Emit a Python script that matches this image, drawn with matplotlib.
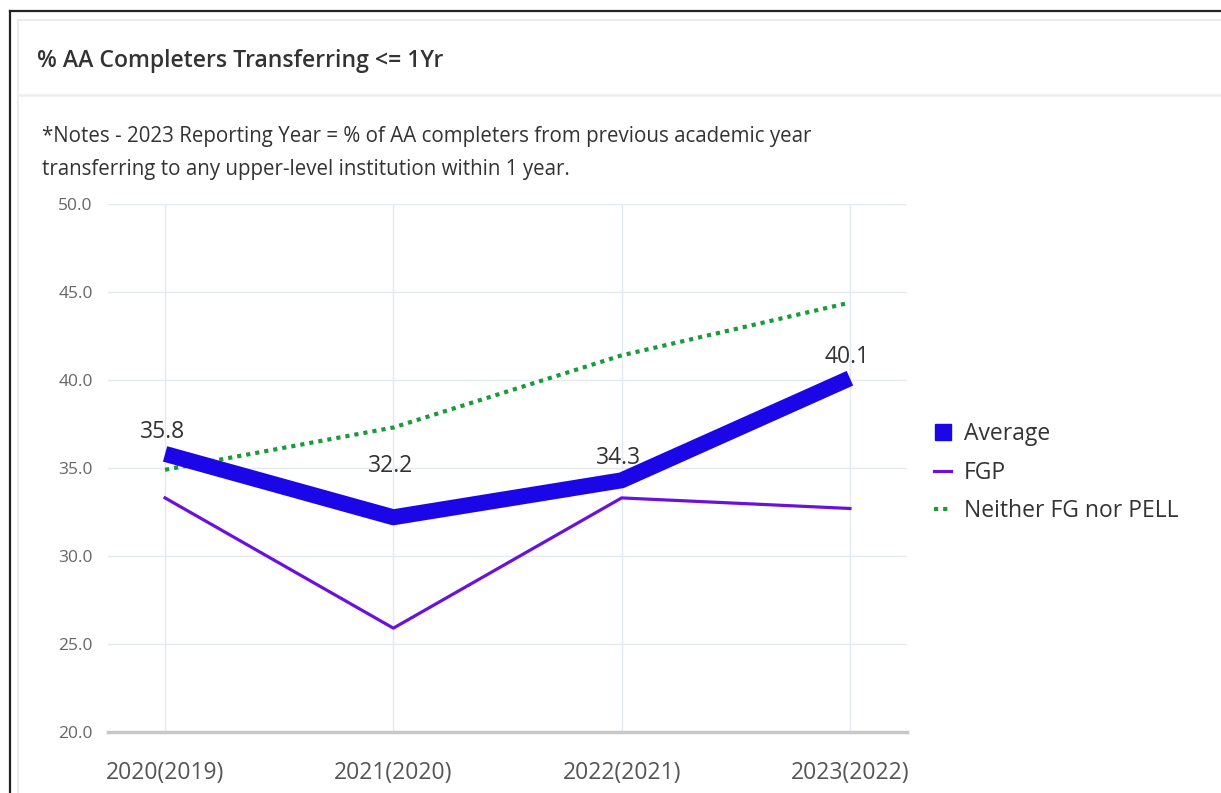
import matplotlib
matplotlib.use("Agg")
import matplotlib.pyplot as plt
from matplotlib.lines import Line2D

plt.rcParams['font.family'] = ['Open Sans', 'DejaVu Sans']

categories = ["2020(2019)", "2021(2020)", "2022(2021)", "2023(2022)"]
average = [35.8, 32.2, 34.3, 40.1]
fgp = [33.3, 25.9, 33.3, 32.7]
neither = [34.9, 37.3, 41.4, 44.4]
yticks = [20.0, 25.0, 30.0, 35.0, 40.0, 45.0, 50.0]
title = "% AA Completers Transferring <= 1Yr"
notes = ("*Notes - 2023 Reporting Year = % of AA completers from previous academic year\n"
         "transferring to any upper-level institution within 1 year.")

W, H = 1221, 793
fig = plt.figure(figsize=(W / 100, H / 100), dpi=100)
fig.patch.set_facecolor("white")

def fx(px):
    return px / W

def fy(py):
    return 1 - py / H

# frame lines
fig.add_artist(Line2D([fx(9.5), fx(9.5)], [0, fy(11)], color="#222222", lw=1.6, transform=fig.transFigure))
fig.add_artist(Line2D([fx(9.5), 1], [fy(11), fy(11)], color="#222222", lw=1.6, transform=fig.transFigure))
fig.add_artist(Line2D([fx(18), fx(18)], [0, fy(20)], color="#e8e8e8", lw=1.2, transform=fig.transFigure))
fig.add_artist(Line2D([fx(18), 1], [fy(20), fy(20)], color="#e8e8e8", lw=1.2, transform=fig.transFigure))
fig.add_artist(Line2D([fx(18), 1], [fy(95), fy(95)], color="#eeeeee", lw=1.8, transform=fig.transFigure))

fig.text(fx(37), fy(61), title, fontsize=16.6, fontweight="semibold", color="#333333",
         va="center", ha="left")
fig.text(fx(42), fy(153), notes, fontsize=14.8, color="#333333", va="center", ha="left",
         linespacing=1.72)

ax = fig.add_axes([fx(108), fy(732), fx(907) - fx(108), fy(204) - fy(732)])
x = list(range(len(categories)))

ax.plot(x, neither, color="#1a9a3a", lw=3, linestyle=(0, (1, 1.2)), zorder=3,
        label="Neither FG nor PELL")
ax.plot(x, fgp, color="#6a12dc", lw=2.3, zorder=3, label="FGP")
ax.plot(x, average, color="#1a06e6", lw=11.5, zorder=4, solid_joinstyle="round",
        solid_capstyle="butt", label="Average")

label_offsets = [(-2, 16), (-2, 37), (-2, 16), (-2, 15)]
for xi, v, off in zip(x, average, label_offsets):
    ax.annotate(f"{v:.1f}", (xi, v), xytext=off, textcoords="offset points",
                ha="center", va="center", fontsize=16.5, color="#333333", zorder=5)

ax.set_xlim(-0.25, len(categories) - 0.75)
ax.set_ylim(20, 50)
ax.set_yticks(yticks)
ax.set_yticklabels([f"{t:.1f}" for t in yticks])
ax.set_xticks(x)
ax.set_xticklabels(categories)
ax.grid(True, color="#e4e8ef", lw=1)
ax.set_axisbelow(True)
for s in ["top", "right", "left"]:
    ax.spines[s].set_visible(False)
ax.spines["bottom"].set_color("#c8c8c8")
ax.spines["bottom"].set_linewidth(2.5)
ax.tick_params(axis="y", length=0, pad=11, labelsize=12.5, labelcolor="#666666")
ax.tick_params(axis="x", length=0, pad=21, labelsize=16.5, labelcolor="#555555")

handles = [
    Line2D([], [], marker="s", color="none", markerfacecolor="#1a06e6",
           markeredgecolor="#1a06e6", markersize=12),
    Line2D([], [], color="#6a12dc", lw=2.3),
    Line2D([], [], color="#1a9a3a", lw=3, linestyle=(0, (1, 1.2))),
]
leg = fig.legend(handles, ["Average", "FGP", "Neither FG nor PELL"],
                 loc="upper left", bbox_to_anchor=(fx(934), fy(422)), frameon=False,
                 fontsize=16.5, handlelength=0.75, handletextpad=0.55, labelspacing=0.64,
                 borderaxespad=0, borderpad=0)
for t in leg.get_texts():
    t.set_color("#333333")

fig.savefig("out.png", dpi=100, facecolor="white")
